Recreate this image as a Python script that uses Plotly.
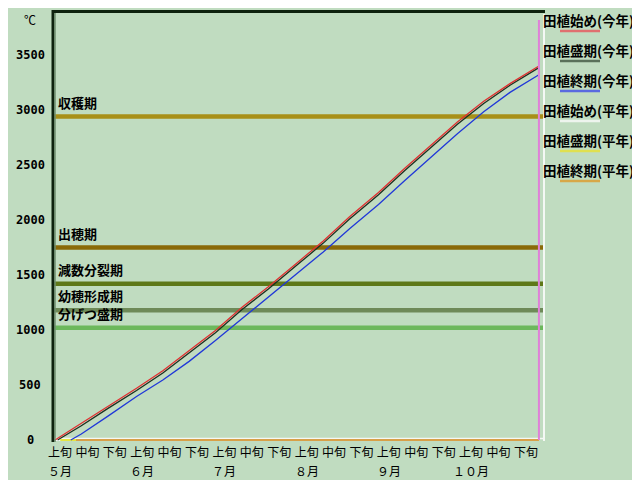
import plotly.graph_objects as go

# ---------------- data ----------------
decade_labels = ["上旬", "中旬", "下旬"] * 6
month_labels = ["５月", "６月", "７月", "８月", "９月", "１０月"]
y_ticks = [0, 500, 1000, 1500, 2000, 2500, 3000, 3500]

# day index from May 1
red_days = [0, 10, 20, 31, 41, 51, 61, 71, 81, 92, 102, 112, 123, 133, 143, 153, 163, 173, 184]
red_vals = [0, 150, 305, 470, 630, 815, 995, 1205, 1390, 1610, 1810, 2030, 2250, 2470, 2680, 2890, 3080, 3240, 3400]

mid_days = [1, 10, 20, 31, 41, 51, 61, 71, 81, 92, 102, 112, 123, 133, 143, 153, 163, 173, 184]
mid_vals = [0, 130, 285, 450, 610, 795, 975, 1185, 1370, 1590, 1790, 2010, 2230, 2450, 2660, 2870, 3060, 3225, 3385]

end_days = [6, 10, 20, 31, 41, 51, 61, 71, 81, 92, 102, 112, 123, 133, 143, 153, 163, 173, 184]
end_vals = [0, 55, 215, 395, 545, 715, 905, 1100, 1300, 1510, 1710, 1920, 2140, 2360, 2575, 2785, 2985, 3160, 3320]

avg_start_days = [0, 184]
avg_start_vals = [0, 0]
avg_mid_days = [2, 184]
avg_mid_vals = [0, 0]
avg_end_days = [8, 184]
avg_end_vals = [0, 0]

series_names = ["田植始め(今年)", "田植盛期(今年)", "田植終期(今年)",
                "田植始め(平年)", "田植盛期(平年)", "田植終期(平年)"]
series_colors = ["#E03030", "#1E2E1E", "#2038D8", "#F2F6F2", "#E6E640", "#D8A048"]
legend_colors = ["#E07070", "#5A705A", "#5A6AE0", "#EEF4EE", "#E0E050", "#D8A848"]

stage_names = ["収穫期", "出穂期", "減数分裂期", "幼穂形成期", "分げつ盛期"]
stage_values = [2940, 1750, 1420, 1180, 1020]
stage_colors = ["#A89018", "#8A6A08", "#5E7818", "#6E8A58", "#6CB85C"]

current_day = 184

# ---------------- layout geometry ----------------
# the page body adds an 8px margin; work in reference pixels and shift
OFF = 8
BG = "#C0DCC0"
W, H = 640, 480
PL, PR, PT, PB = 52, 545, 10, 442          # plot area in reference pixels
L, T = PL - OFF, PT - OFF
R, B = W - (PR - OFF), H - (PB - OFF)
plot_w = PR - PL
plot_h = PB - PT
px_per_day = 2.63
x0_px = 55
x_range = [(PL - x0_px) / px_per_day, (PR - x0_px) / px_per_day]
y_range = [-18, 3909]
FONT = "Noto Sans CJK JP"


def px_to_paper_y(py):
    return (PB - py) / plot_h


def px_to_paper_x(px):
    return (px - PL) / plot_w


fig = go.Figure()

xs = [red_days, mid_days, end_days, avg_start_days, avg_mid_days, avg_end_days]
ys = [red_vals, mid_vals, end_vals, avg_start_vals, avg_mid_vals, avg_end_vals]
draw_order = [3, 4, 5, 2, 1, 0]
for i in draw_order:
    fig.add_trace(go.Scatter(
        x=xs[i], y=ys[i], mode="lines", name=series_names[i],
        line=dict(color=series_colors[i], width=1.3 if i < 3 else 2),
        showlegend=False, hoverinfo="skip"))

shapes = []
annotations = []

# stage lines
for name, val, col in zip(stage_names, stage_values, stage_colors):
    shapes.append(dict(type="line", xref="paper", yref="y", x0=0, x1=1, y0=val, y1=val,
                       line=dict(color=col, width=4.5), layer="below"))
    annotations.append(dict(xref="paper", yref="y", x=px_to_paper_x(56), y=val,
                            xanchor="left", yanchor="bottom", yshift=3,
                            text="<b>" + name + "</b>", showarrow=False,
                            font=dict(family=FONT, size=13, color="black")))

# current day marker
shapes.append(dict(type="line", xref="x", yref="paper", x0=current_day, x1=current_day,
                   y0=px_to_paper_y(440), y1=px_to_paper_y(20),
                   line=dict(color="#E080D8", width=2)))

# frame: dark top/left, white bottom/right
shapes.append(dict(type="line", xref="paper", yref="paper", x0=px_to_paper_x(PR - 1), x1=px_to_paper_x(PR - 1),
                   y0=px_to_paper_y(441), y1=px_to_paper_y(14), line=dict(color="#F4F8F4", width=2)))
shapes.append(dict(type="line", xref="paper", yref="paper", x0=0, x1=px_to_paper_x(PR),
                   y0=px_to_paper_y(438.5), y1=px_to_paper_y(438.5), line=dict(color="#F4F8F4", width=1.5),
                   layer="below"))
shapes.append(dict(type="line", xref="paper", yref="paper", x0=px_to_paper_x(PL + 1), x1=px_to_paper_x(PL + 1),
                   y0=px_to_paper_y(442), y1=px_to_paper_y(10), line=dict(color="#0E220E", width=3)))
shapes.append(dict(type="line", xref="paper", yref="paper", x0=px_to_paper_x(PL), x1=px_to_paper_x(PR),
                   y0=px_to_paper_y(11.5), y1=px_to_paper_y(11.5), line=dict(color="#0E220E", width=3)))
shapes.append(dict(type="line", xref="paper", yref="paper", x0=px_to_paper_x(PL + 3), x1=px_to_paper_x(PL + 3),
                   y0=px_to_paper_y(442), y1=px_to_paper_y(13), line=dict(color="#6E8E6E", width=1.5)))

# custom legend
for k, (name, col) in enumerate(zip(series_names, legend_colors)):
    ty = 20 + 30 * k
    annotations.append(dict(xref="paper", yref="paper", x=px_to_paper_x(541), y=px_to_paper_y(ty),
                            xanchor="left", yanchor="middle", text="<b>" + name + "</b>",
                            showarrow=False, font=dict(family=FONT, size=13.5, color="black")))
    shapes.append(dict(type="line", xref="paper", yref="paper",
                       x0=px_to_paper_x(560), x1=px_to_paper_x(600),
                       y0=px_to_paper_y(ty + 11), y1=px_to_paper_y(ty + 11),
                       line=dict(color=col, width=2.5)))

# degree label
annotations.append(dict(xref="paper", yref="paper", x=px_to_paper_x(30), y=px_to_paper_y(20),
                        xanchor="center", yanchor="middle", text="℃", showarrow=False,
                        font=dict(family=FONT, size=12, color="black")))

# y tick labels (centred, as in the reference)
for v in y_ticks:
    annotations.append(dict(xref="paper", yref="y", x=px_to_paper_x(30), y=v,
                            xanchor="center", yanchor="middle", text="<b>%d</b>" % v,
                            showarrow=False,
                            font=dict(family="DejaVu Sans Mono", size=12, color="black")))

# x tick positions (label centers) and month labels
label_step = 10.42
tick_days = [1.9 + label_step * k for k in range(len(decade_labels))]
for m, mlab in enumerate(month_labels):
    annotations.append(dict(xref="x", yref="paper", x=tick_days[3 * m], y=px_to_paper_y(470),
                            xanchor="center", yanchor="middle", text=mlab, showarrow=False,
                            font=dict(family=FONT, size=12, color="black")))

fig.update_layout(
    width=W, height=H,
    margin=dict(l=L, r=R, t=T, b=B, pad=0),
    paper_bgcolor=BG, plot_bgcolor=BG,
    shapes=shapes, annotations=annotations,
    xaxis=dict(range=x_range, tickvals=tick_days, ticktext=decade_labels,
               showgrid=False, zeroline=False, showline=False, ticks="",
               ticklabelstandoff=2,
               tickfont=dict(family=FONT, size=12, color="black"), fixedrange=True),
    yaxis=dict(range=y_range, showticklabels=False,
               showgrid=False, zeroline=False, showline=False, ticks="", fixedrange=True),
    showlegend=False,
)

fig.write_html("out.html")
